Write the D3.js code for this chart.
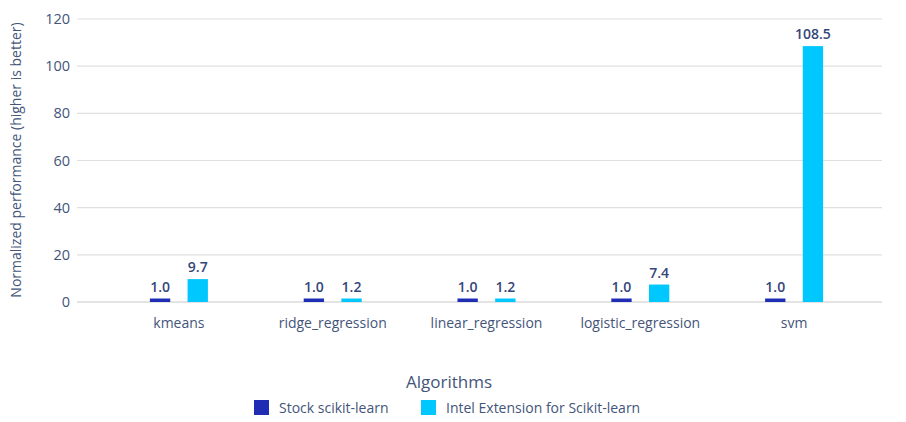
<!DOCTYPE html>
<html><head><meta charset="utf-8">
<script src="https://cdn.jsdelivr.net/npm/d3@7"></script>
<style>body{margin:0;background:#fff;} text{font-family:"Open Sans",sans-serif;}</style>
</head><body><svg id="c" width="906" height="422"></svg>
<script>
const categories = ["kmeans","ridge_regression","linear_regression","logistic_regression","svm"];
const seriesNames = ["Stock scikit-learn","Intel Extension for Scikit-learn"];
const stockValues = [1.0, 1.0, 1.0, 1.0, 1.0];
const intelValues = [9.7, 1.2, 1.2, 7.4, 108.5];
const yTicks = [0,20,40,60,80,100,120];
const colors = ["#1F2DB5","#00C7FD"];

const svg = d3.select("#c");
const gridX0 = 77, gridX1 = 882;
const y = d3.scaleLinear().domain([0,120]).range([302,19]);
const x = d3.scaleBand().domain(categories).range([102,871]);
const inner = d3.scaleBand().domain(seriesNames).range([x.bandwidth()/2-29, x.bandwidth()/2+29]).paddingInner(0.46);

// gridlines
svg.append("g").selectAll("line").data(yTicks).join("line")
  .attr("x1",gridX0).attr("x2",gridX1)
  .attr("y1",d=>y(d)).attr("y2",d=>y(d))
  .attr("stroke",d=>d===0?"#c8c8c8":"#e0e0e0").attr("stroke-width",1.2);

// y axis
const yAxis = svg.append("g").attr("transform",`translate(${gridX0},0)`)
  .call(d3.axisLeft(y).tickValues(yTicks).tickSize(0).tickPadding(7));
yAxis.select(".domain").remove();
yAxis.selectAll("text").attr("font-size",14.5).attr("fill","#44557a").style("font-family","'Open Sans',sans-serif");

// x axis
const xAxis = svg.append("g").attr("transform",`translate(0,${y(0)})`)
  .call(d3.axisBottom(x).tickSize(0).tickPadding(16));
xAxis.select(".domain").remove();
xAxis.selectAll("text").attr("font-size",14).attr("fill","#44557a").style("font-family","'Open Sans',sans-serif");

const rows = categories.map((c,i)=>({cat:c, vals:[stockValues[i], intelValues[i]]}));
const g = svg.append("g").selectAll("g").data(rows).join("g")
  .attr("transform",d=>`translate(${x(d.cat)},0)`);
const bars = g.selectAll("g.b").data(d=>d.vals.map((v,j)=>({v, s:seriesNames[j], j}))).join("g").attr("class","b");
bars.append("rect")
  .attr("x",d=>inner(d.s)).attr("width",inner.bandwidth())
  .attr("y",d=>Math.min(y(d.v), y(0)-3.5)).attr("height",d=>Math.max(y(0)-y(d.v),3.5))
  .attr("fill",d=>colors[d.j]);
bars.append("text")
  .attr("x",d=>inner(d.s)+inner.bandwidth()/2)
  .attr("y",d=>Math.min(y(d.v), y(0)-3.5)-7)
  .attr("text-anchor","middle").attr("font-size",14).attr("font-weight",600)
  .attr("fill","#34467a").text(d=>d.v.toFixed(1));

// y title
svg.append("text").attr("transform","translate(21,160) rotate(-90)")
  .attr("text-anchor","middle").attr("font-size",14).attr("fill","#44557a")
  .text("Normalized performance (higher is better)");

// x title
svg.append("text").attr("x",449).attr("y",388).attr("text-anchor","middle")
  .attr("font-size",17).attr("fill","#44557a").text("Algorithms");

// legend
const legX = [254, 421];
const leg = svg.append("g").selectAll("g").data(seriesNames).join("g")
  .attr("transform",(d,i)=>`translate(${legX[i]},400)`);
leg.append("rect").attr("width",15).attr("height",15).attr("fill",(d,i)=>colors[i]);
leg.append("text").attr("x",25).attr("y",12.5).attr("font-size",14).attr("fill","#44557a").text(d=>d);
</script></body></html>
